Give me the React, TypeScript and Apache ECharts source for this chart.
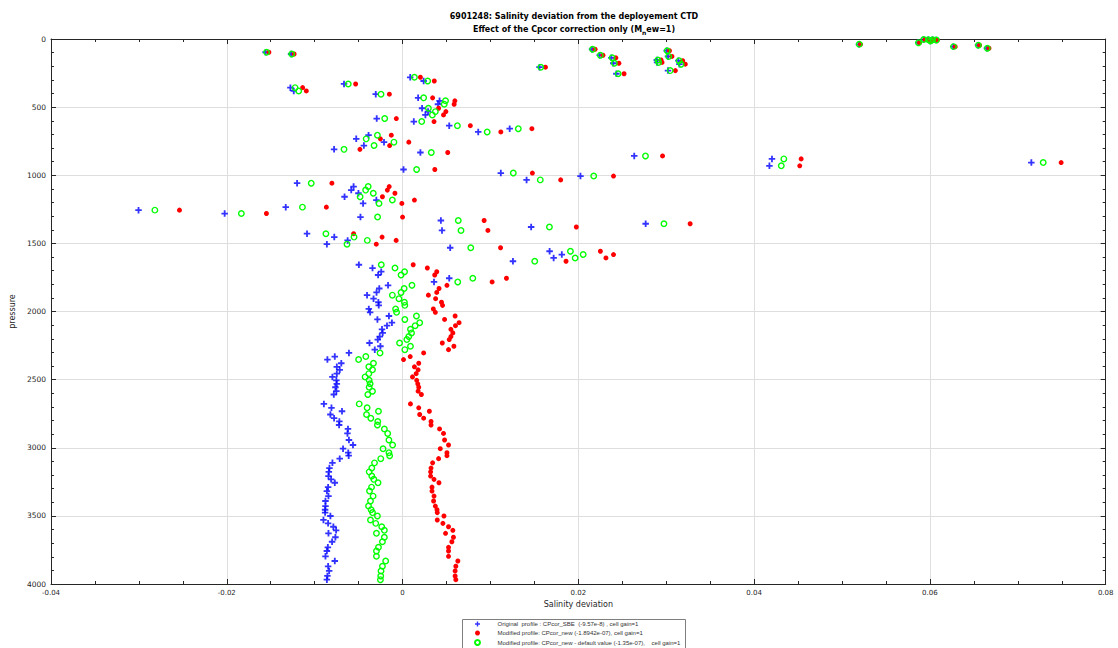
import React, { useEffect, useRef } from "react";
import * as echarts from "echarts";

const pressure = [
  4, 6, 5, 8, 15, 27, 39, 46, 56, 68,
  75, 86, 97, 110, 119, 128, 138, 154, 159, 172,
  178, 185, 207, 232, 255, 281, 308, 330, 357, 381,
  405, 432, 454, 479, 508, 533, 557, 584, 606, 636,
  658, 682, 706, 733, 757, 782, 810, 833, 858, 880,
  907, 931, 958, 984, 1006, 1034, 1058, 1083, 1109, 1132,
  1158, 1182, 1207, 1234, 1256, 1281, 1307, 1332, 1356, 1380,
  1405, 1429, 1454, 1478, 1506, 1532, 1558, 1582, 1607, 1631,
  1657, 1681, 1708, 1732, 1756, 1783, 1808, 1831, 1860, 1880,
  1906, 1932, 1955, 1981, 2006, 2033, 2058, 2082, 2104, 2131,
  2157, 2184, 2206, 2231, 2255, 2280, 2304, 2331, 2353, 2380,
  2406, 2428, 2456, 2480, 2505, 2531, 2556, 2585, 2609, 2678,
  2707, 2732, 2756, 2783, 2807, 2833, 2862, 2895, 2943, 2980,
  3007, 3036, 3058, 3080, 3111, 3149, 3177, 3208, 3232, 3257,
  3289, 3318, 3355, 3391, 3428, 3455, 3476, 3501, 3530, 3555,
  3580, 3606, 3628, 3657, 3690, 3731, 3758, 3797, 3831, 3870,
  3904, 3941, 3968,
];

const originalSBE = [
  0.05927, 0.0598, 0.06028, 0.0607, 0.06002, 0.05867, 0.05193, 0.06548, 0.06265, 0.06649,
  0.02156, 0.03006, -0.01558, -0.01268, 0.02243, 0.0302, 0.02376, 0.02893, 0.03138, 0.02896,
  0.02397, 0.0315, 0.01558, 0.0302, 0.02433, 0.00087, 0.0024, -0.00666, -0.01276, -0.01238,
  -0.00305, 0.00177, 0.00421, 0.00403, 0.00222, 0.0029, 0.0026, -0.00294, 0.00128, 0.00531,
  0.01219, 0.00861, -0.00387, -0.00527, -0.00211, -0.0044, -0.00779, 0.00203, 0.02636, 0.04203,
  0.07154, 0.04174, 0.00011, 0.01118, 0.02024, 0.01411, -0.012, -0.00557, -0.00584, -0.00502,
  -0.0066, -0.00298, -0.00449, -0.01329, -0.03004, -0.02024, -0.00479, 0.00436, 0.02766, 0.01463,
  0.00449, -0.01087, -0.00777, -0.00625, -0.00861, 0.00542, 0.01673, 0.01812, 0.01719, 0.01256,
  -0.00497, -0.00342, -0.00243, -0.00278, 0.00531, 0.00358, -0.00165, -0.00265, -0.00296, -0.00404,
  -0.0033, -0.00275, -0.00271, -0.00384, -0.00369, -0.00155, -0.00286, -0.00121, -0.00177, -0.00234,
  -0.00226, -0.0026, -0.00282, -0.00376, -0.00252, -0.00316, -0.0061, -0.00771, -0.00855, -0.00697,
  -0.00748, -0.00715, -0.00748, -0.00798, -0.00753, -0.00748, -0.00764, -0.00753, -0.00782, -0.00895,
  -0.00809, -0.00689, -0.00821, -0.00779, -0.00719, -0.00722, -0.00621, -0.00627, -0.0061, -0.00564,
  -0.00677, -0.00618, -0.00613, -0.00715, -0.00798, -0.00832, -0.00839, -0.00843, -0.00813, -0.00771,
  -0.00847, -0.00861, -0.00843, -0.00877, -0.00877, -0.00881, -0.00881, -0.00821, -0.009, -0.00847,
  -0.00787, -0.00756, -0.00843, -0.00764, -0.00802, -0.0085, -0.00861, -0.00877, -0.00771, -0.00847,
  -0.00835, -0.00855, -0.00861,
];

const modifiedNew = [
  0.05944, 0.05995, 0.06043, 0.06085, 0.06017, 0.05882, 0.0521, 0.06565, 0.06288, 0.06672,
  0.0219, 0.03037, -0.01521, -0.01234, 0.0228, 0.03065, 0.02427, 0.02941, 0.03187, 0.02952,
  0.02461, 0.03217, 0.01626, 0.03104, 0.0252, 0.00203, 0.00361, -0.00534, -0.01137, -0.01095,
  -0.0015, 0.00342, 0.00595, 0.00587, 0.0041, 0.00493, 0.00466, -0.00071, 0.00358, 0.00771,
  0.01471, 0.01118, -0.00128, -0.00252, 0.00071, -0.00147, -0.00485, 0.00514, 0.02958, 0.04535,
  0.07493, 0.04519, 0.00367, 0.01477, 0.024, 0.01799, -0.00804, -0.00152, -0.00173, -0.00087,
  -0.00229, 0.00135, -0.00008, -0.00867, -0.02538, -0.01549, 0.0, 0.00928, 0.03272, 0.01977,
  0.00971, -0.00557, -0.00233, -0.00073, -0.00299, 0.01115, 0.02251, 0.024, 0.02314, 0.0186,
  0.00121, 0.00282, 0.00389, 0.00366, 0.01182, 0.01019, 0.00505, 0.00415, 0.00389, 0.00294,
  0.00376, 0.00443, 0.00455, 0.0035, 0.00373, 0.00598, 0.00478, 0.00643, 0.00602, 0.0055,
  0.00572, 0.0055, 0.00531, 0.00452, 0.00584, 0.00523, 0.0024, 0.00087, 0.00011, 0.00184,
  0.00135, 0.00177, 0.00155, 0.00113, 0.00161, 0.00173, 0.00184, 0.00177, 0.00214, 0.0009,
  0.00184, 0.00305, 0.00195, 0.0024, 0.00324, 0.00324, 0.00421, 0.00466, 0.00478, 0.00523,
  0.00429, 0.00505, 0.00505, 0.0041, 0.00342, 0.00324, 0.00319, 0.00319, 0.00358, 0.00414,
  0.00335, 0.00335, 0.00358, 0.00353, 0.00373, 0.00392, 0.00395, 0.00471, 0.00395, 0.00459,
  0.00523, 0.00572, 0.00489, 0.00579, 0.00561, 0.00523, 0.00523, 0.00523, 0.00629, 0.00606,
  0.00598, 0.00598, 0.00606,
];

const modifiedDefault = [
  0.0593, 0.05983, 0.06032, 0.06074, 0.06006, 0.0587, 0.05196, 0.06551, 0.06269, 0.06653,
  0.02162, 0.03011, -0.01547, -0.01261, 0.0225, 0.03028, 0.02385, 0.02905, 0.03146, 0.02913,
  0.0241, 0.03169, 0.01573, 0.03045, 0.02453, 0.00135, 0.00286, -0.00618, -0.01223, -0.01182,
  -0.00245, 0.0024, 0.00489, 0.00474, 0.00294, 0.00373, 0.00339, -0.00203, 0.00218, 0.00624,
  0.01317, 0.00963, -0.00286, -0.00414, -0.00098, -0.00324, -0.00666, 0.00327, 0.02764, 0.04338,
  0.07289, 0.04309, 0.0016, 0.0126, 0.02175, 0.01567, -0.01039, -0.00391, -0.0042, -0.00333,
  -0.00483, -0.00116, -0.00268, -0.01139, -0.02818, -0.01834, -0.00284, 0.00634, 0.02974, 0.01671,
  0.00665, -0.00872, -0.00552, -0.00401, -0.00632, 0.00776, 0.0191, 0.02055, 0.01964, 0.01504,
  -0.00242, -0.00086, 0.00023, -0.00017, 0.00799, 0.00628, 0.00107, 0.00018, -0.00017, -0.00116,
  -0.00041, 0.00021, 0.00026, -0.00079, -0.00068, 0.00158, 0.00026, 0.00195, 0.00143, 0.0009,
  0.00102, 0.00071, 0.00049, -0.00034, 0.0009, 0.00026, -0.00256, -0.00418, -0.005, -0.00331,
  -0.00384, -0.00342, -0.00384, -0.00426, -0.0038, -0.00369, -0.0038, -0.00342, -0.00395, -0.00493,
  -0.00403, -0.00274, -0.0041, -0.00361, -0.00282, -0.00286, -0.00207, -0.00169, -0.00155, -0.00113,
  -0.00222, -0.00155, -0.00147, -0.00248, -0.00319, -0.0035, -0.0038, -0.0035, -0.00327, -0.00279,
  -0.00353, -0.00376, -0.00335, -0.00365, -0.00387, -0.00358, -0.00342, -0.00286, -0.00365, -0.00305,
  -0.00237, -0.00207, -0.00297, -0.00207, -0.00229, -0.00274, -0.00297, -0.00297, -0.00192, -0.00229,
  -0.00245, -0.00248, -0.00252,
];

const seriesNames = [
  "Original  profile : CPcor_SBE  (-9.57e-8) , cell gain=1",
  "Modified profile: CPcor_new (-1.8942e-07), cell gain=1",
  "Modified profile: CPcor_new - default value (-1.35e-07),    cell gain=1",
];

const titleLine1 = "6901248: Salinity deviation from the deployement CTD";
const xAxisTitle = "Salinity deviation";
const yAxisTitle = "pressure";

const PLUS = "path://M0,3.6H10V6.4H0Z M3.6,0H6.4V10H3.6Z";
const FONT = "DejaVu Sans";

function pairs(xs: number[]) {
  return xs.map((x, i) => [x, pressure[i]]);
}

export default function App() {
  const ref = useRef<HTMLDivElement>(null);
  useEffect(() => {
    if (!ref.current) return;
    const chart = echarts.init(ref.current, null, { renderer: "svg" });
    const axisLine = { show: true, onZero: false, lineStyle: { color: "#262626", width: 1 } };
    const xCommon = {
      type: "value",
      min: -0.04,
      max: 0.08,
      interval: 0.02,
      axisLine,
      axisTick: { show: true, inside: true, length: 5, lineStyle: { color: "#262626" } },
      minorTick: { show: true, splitNumber: 4, length: 3, lineStyle: { color: "#262626" } },
    };
    const yCommon = {
      type: "value",
      inverse: true,
      min: 0,
      max: 4000,
      interval: 500,
      axisLine,
      axisTick: { show: true, inside: true, length: 5, lineStyle: { color: "#262626" } },
      minorTick: { show: true, splitNumber: 5, length: 3, lineStyle: { color: "#262626" } },
    };
    chart.setOption({
      animation: false,
      backgroundColor: "#ffffff",
      grid: { left: 42.6, right: 12.3, top: 39, bottom: 64, containLabel: false },
      xAxis: [
        {
          ...xCommon,
          position: "bottom",
          name: xAxisTitle,
          nameLocation: "middle",
          nameGap: 16,
          nameTextStyle: { fontFamily: FONT, fontSize: 8, color: "#262626" },
          axisLabel: {
            fontFamily: FONT,
            fontSize: 7,
            color: "#262626",
            margin: 5,
            formatter: (v: number) => String(Math.round(v * 100) / 100),
          },
          splitLine: { show: true, lineStyle: { color: "#dedede", width: 1 } },
        },
        {
          ...xCommon,
          position: "top",
          axisLabel: { show: false },
          splitLine: { show: false },
        },
      ],
      yAxis: [
        {
          ...yCommon,
          position: "left",
          name: yAxisTitle,
          nameLocation: "middle",
          nameGap: 26,
          nameTextStyle: { fontFamily: FONT, fontSize: 8, color: "#262626" },
          axisLabel: {
            fontFamily: FONT,
            fontSize: 7.5,
            color: "#262626",
            margin: 5,
            formatter: (v: number) => String(v),
          },
          splitLine: { show: true, lineStyle: { color: "#dedede", width: 1 } },
        },
        {
          ...yCommon,
          position: "right",
          axisLabel: { show: false },
          splitLine: { show: false },
        },
      ],
      legend: {
        orient: "vertical",
        left: 474,
        top: 621,
        itemWidth: 14,
        itemHeight: 5,
        itemGap: 3,
        padding: 0,
        textStyle: {
          fontFamily: "Liberation Sans Narrow, Liberation Sans",
          fontSize: 6,
          color: "#333",
          padding: [0, 0, 0, 8],
        },
        data: seriesNames,
      },
      graphic: [
        {
          type: "rect",
          z: 0,
          shape: { x: 462.5, y: 619.5, width: 223, height: 40 },
          style: { fill: "#ffffff", stroke: "#7f7f7f", lineWidth: 1 },
        },
        {
          type: "text",
          x: 574,
          y: 16,
          style: {
            text: titleLine1,
            fontFamily: FONT,
            fontSize: 8,
            fontWeight: "bold",
            fill: "#000",
            align: "center",
            verticalAlign: "middle",
          },
        },
        {
          type: "text",
          x: 574,
          y: 29,
          style: {
            text: "{a|Effect of the Cpcor correction only (M}{s|n}{a|ew=1)}",
            align: "center",
            verticalAlign: "middle",
            rich: {
              a: { fontFamily: FONT, fontSize: 8, fontWeight: "bold", fill: "#000" },
              s: { fontFamily: FONT, fontSize: 6, fontWeight: "bold", fill: "#000", padding: [6, 0, 0, 0] },
            },
          },
        },
      ],
      series: [
        {
          name: seriesNames[0],
          type: "scatter",
          symbol: PLUS,
          symbolSize: 6.5,
          itemStyle: { color: "#0000ff" },
          data: pairs(originalSBE),
          z: 3,
        },
        {
          name: seriesNames[1],
          type: "scatter",
          symbol: "circle",
          symbolSize: 5,
          itemStyle: { color: "#ff0000", opacity: 1 },
          data: pairs(modifiedNew),
          z: 4,
        },
        {
          name: seriesNames[2],
          type: "scatter",
          symbol: "circle",
          symbolSize: 5.5,
          itemStyle: { color: "rgba(255,255,255,0)", borderColor: "#00ff00", borderWidth: 1.4, opacity: 1 },
          data: pairs(modifiedDefault),
          z: 5,
        },
      ],
    });
    return () => chart.dispose();
  }, []);
  return (
    <div
      ref={ref}
      style={{ position: "fixed", left: 0, top: 0, width: 1118, height: 648, background: "#fff" }}
    />
  );
}
